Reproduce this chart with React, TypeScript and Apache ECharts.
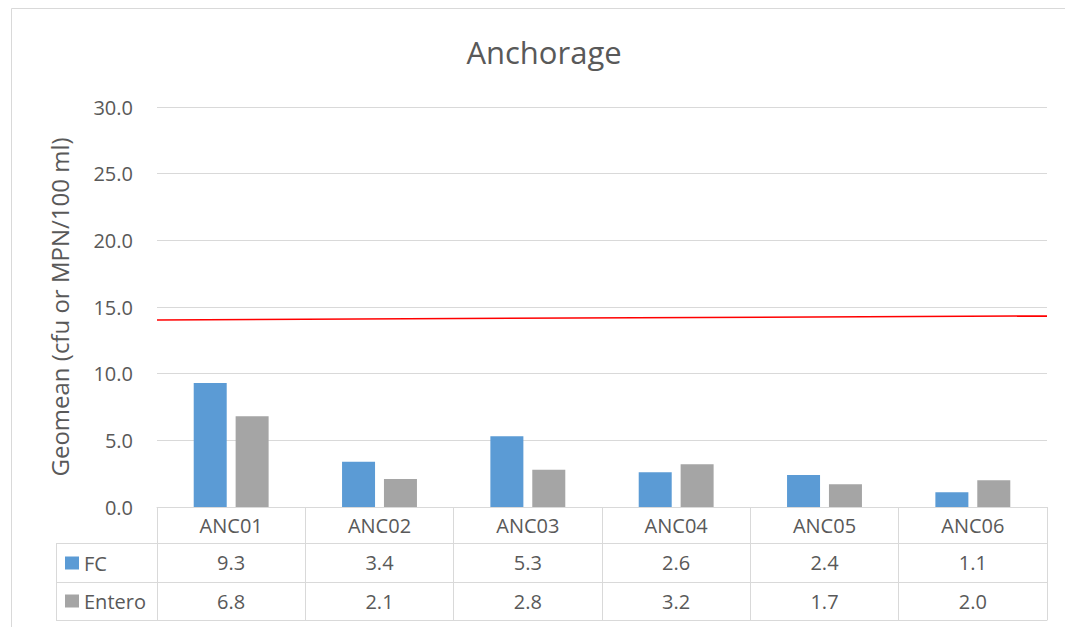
import React, { useEffect, useRef } from "react";
import * as echarts from "echarts";

const categories = ["ANC01", "ANC02", "ANC03", "ANC04", "ANC05", "ANC06"];
const fcValues = [9.3, 3.4, 5.3, 2.6, 2.4, 1.1];
const enteroValues = [6.8, 2.1, 2.8, 3.2, 1.7, 2.0];
const thresholdLine = [
  [0, 14.03],
  [1, 14.33],
];
const yTicks = { min: 0, max: 30, interval: 5 };

const FONT = "'Open Sans', 'Noto Sans', sans-serif";
const TXT = "#595959";
const GRID = "#d9d9d9";

export default function App() {
  const ref = useRef<HTMLDivElement>(null);
  useEffect(() => {
    if (!ref.current) return;
    const chart = echarts.init(ref.current, undefined, { renderer: "svg" });
    const labelStyle = { fontSize: 20, color: TXT, fontFamily: FONT };
    chart.setOption({
      animation: false,
      backgroundColor: "#ffffff",
      textStyle: { fontFamily: FONT },
      title: {
        text: "Anchorage",
        left: 539,
        top: 31,
        textAlign: "center",
        textStyle: { fontSize: 31, fontWeight: "normal", color: TXT, fontFamily: FONT },
      },
      legend: {
        data: ["FC", "Entero"],
        orient: "vertical",
        left: 65,
        top: 553,
        padding: 0,
        itemWidth: 14,
        itemHeight: 13,
        itemGap: 18,
        icon: "rect",
        textStyle: { fontSize: 20, color: TXT, lineHeight: 20, fontFamily: FONT },
      },
      grid: { left: 157, right: 18, top: 107, bottom: 120, containLabel: false },
      xAxis: [
        {
          type: "category",
          data: categories,
          position: "bottom",
          axisLine: { show: true, lineStyle: { color: GRID, width: 1 } },
          axisTick: { show: true, interval: 0, length: 113, alignWithLabel: false, lineStyle: { color: GRID } },
          axisLabel: { ...labelStyle, interval: 0, margin: 18, verticalAlign: "middle" },
        },
        {
          type: "category",
          data: categories,
          position: "bottom",
          offset: 36,
          axisLine: { show: true, lineStyle: { color: GRID } },
          axisTick: { show: false },
          axisLabel: {
            ...labelStyle,
            interval: 0,
            margin: 19,
            verticalAlign: "middle",
            formatter: (_v: string, i: number) => fcValues[i].toFixed(1),
          },
        },
        {
          type: "category",
          data: categories,
          position: "bottom",
          offset: 75,
          axisLine: { show: true, lineStyle: { color: GRID } },
          axisTick: { show: false },
          axisLabel: {
            ...labelStyle,
            interval: 0,
            margin: 19,
            verticalAlign: "middle",
            formatter: (_v: string, i: number) => enteroValues[i].toFixed(1),
          },
        },
        {
          type: "category",
          data: categories,
          position: "bottom",
          offset: 113,
          axisLine: { show: true, lineStyle: { color: GRID } },
          axisTick: { show: false },
          axisLabel: { show: false },
        },
        { type: "value", min: 0, max: 1, show: false },
      ],
      yAxis: {
        type: "value",
        min: yTicks.min,
        max: yTicks.max,
        interval: yTicks.interval,
        name: "Geomean (cfu or MPN/100 ml)",
        nameLocation: "middle",
        nameGap: 86,
        nameTextStyle: { fontSize: 24, color: TXT, fontFamily: FONT },
        axisLine: { show: false },
        axisTick: { show: false },
        axisLabel: { ...labelStyle, margin: 24, formatter: (v: number) => v.toFixed(1) },
        splitLine: { lineStyle: { color: GRID, width: 1 } },
      },
      series: [
        {
          name: "FC",
          type: "bar",
          xAxisIndex: 0,
          data: fcValues,
          barWidth: 33,
          barGap: "27%",
          itemStyle: { color: "#5b9bd5" },
        },
        {
          name: "Entero",
          type: "bar",
          xAxisIndex: 0,
          data: enteroValues,
          barWidth: 33,
          itemStyle: { color: "#a5a5a5" },
        },
        {
          name: "Threshold",
          type: "line",
          xAxisIndex: 4,
          data: thresholdLine,
          symbol: "none",
          lineStyle: { color: "#ff0000", width: 1.5 },
          z: 5,
        },
      ],
      graphic: [
        {
          type: "rect",
          shape: { x: 11.5, y: 8.5, width: 1100, height: 700 },
          style: { fill: "none", stroke: GRID, lineWidth: 1 },
          z: -1,
        },
        { type: "line", shape: { x1: 56, y1: 543.5, x2: 157, y2: 543.5 }, style: { stroke: GRID, lineWidth: 1 } },
        { type: "line", shape: { x1: 56, y1: 582.5, x2: 157, y2: 582.5 }, style: { stroke: GRID, lineWidth: 1 } },
        { type: "line", shape: { x1: 56, y1: 620.5, x2: 157, y2: 620.5 }, style: { stroke: GRID, lineWidth: 1 } },
        { type: "line", shape: { x1: 56.5, y1: 543, x2: 56.5, y2: 621 }, style: { stroke: GRID, lineWidth: 1 } },
      ],
    });
    return () => chart.dispose();
  }, []);
  return (
    <div
      ref={ref}
      style={{ position: "fixed", left: 0, top: 0, width: 1065, height: 627, background: "#fff" }}
    />
  );
}
